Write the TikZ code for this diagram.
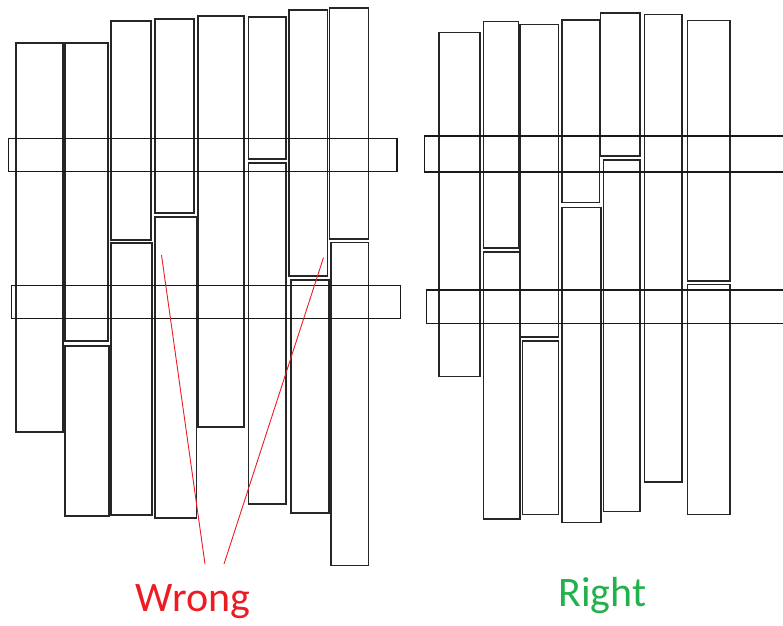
\documentclass[tikz,border=0pt]{standalone}
\usepackage{fontspec}
\setmainfont{Carlito}
\definecolor{wrongred}{RGB}{237,28,36}
\definecolor{rightgreen}{RGB}{34,177,76}
\tikzset{
  plank/.style={draw=black!85, line width=1.3pt},
  bar/.style={draw=black!90, line width=1.3pt},
  pointer/.style={draw=wrongred, line width=0.9pt},
  caption/.style={font=\fontsize{42}{42}\selectfont, inner sep=0pt, anchor=base}
}
\begin{document}
\begin{tikzpicture}[x=1pt,y=-1pt]
\useasboundingbox (0,0) rectangle (783,625);
% ---------------- Left (Wrong) ----------------
\draw[plank] (16,43) rectangle (63,432);
\draw[plank] (65,43) rectangle (108,341);
\draw[plank] (65,346) rectangle (109,516);
\draw[plank] (111,21) rectangle (151,240);
\draw[plank] (111,243) rectangle (152,515);
\draw[plank] (155,19) rectangle (194,213);
\draw[plank] (155,217) rectangle (196.5,518);
\draw[plank] (198,16) rectangle (244,427);
\draw[plank] (248.5,17) rectangle (286,159);
\draw[plank] (248.5,163) rectangle (286,504);
\draw[plank] (289,10) rectangle (327.5,276);
\draw[plank] (291,280) rectangle (329,513);
\draw[plank] (329.5,8) rectangle (368.5,239);
\draw[plank] (331,242.5) rectangle (368.5,565.5);
\draw[bar] (8.5,138.5) rectangle (397,171.5);
\draw[bar] (11.5,285.5) rectangle (400.5,318.5);
% labels and pointers
\node[caption, text=wrongred] (wrong) at (193,611.5) {Wrong};
\coordinate (w1) at (205,564);
\coordinate (w2) at (224,564);
\coordinate (t1) at (161.5,255);
\coordinate (t2) at (323.5,257.5);
\draw[pointer] (w1) -- (t1);
\draw[pointer] (w2) -- (t2);
% ---------------- Right (Right) ----------------
\draw[plank] (439,32.5) rectangle (480,376.5);
\draw[plank] (483.5,21.5) rectangle (518.5,248);
\draw[plank] (483.5,252) rectangle (520,519);
\draw[plank] (520,24.5) rectangle (558.5,337);
\draw[plank] (522.5,341) rectangle (558.5,514.5);
\draw[plank] (562,20) rectangle (599.5,202.5);
\draw[plank] (562,207.5) rectangle (601,522.5);
\draw[plank] (600.5,13) rectangle (640,156);
\draw[plank] (603.5,160) rectangle (640,511.5);
\draw[plank] (644.5,14.5) rectangle (682,482);
\draw[plank] (687.5,20.5) rectangle (730,281);
\draw[plank] (687.5,284.5) rectangle (730,514.5);
\draw[bar] (424.5,136) rectangle (790,172);
\draw[bar] (426.5,290) rectangle (790,323.5);
\node[caption, text=rightgreen] (right) at (602.5,606.5) {Right};
\end{tikzpicture}
\end{document}
